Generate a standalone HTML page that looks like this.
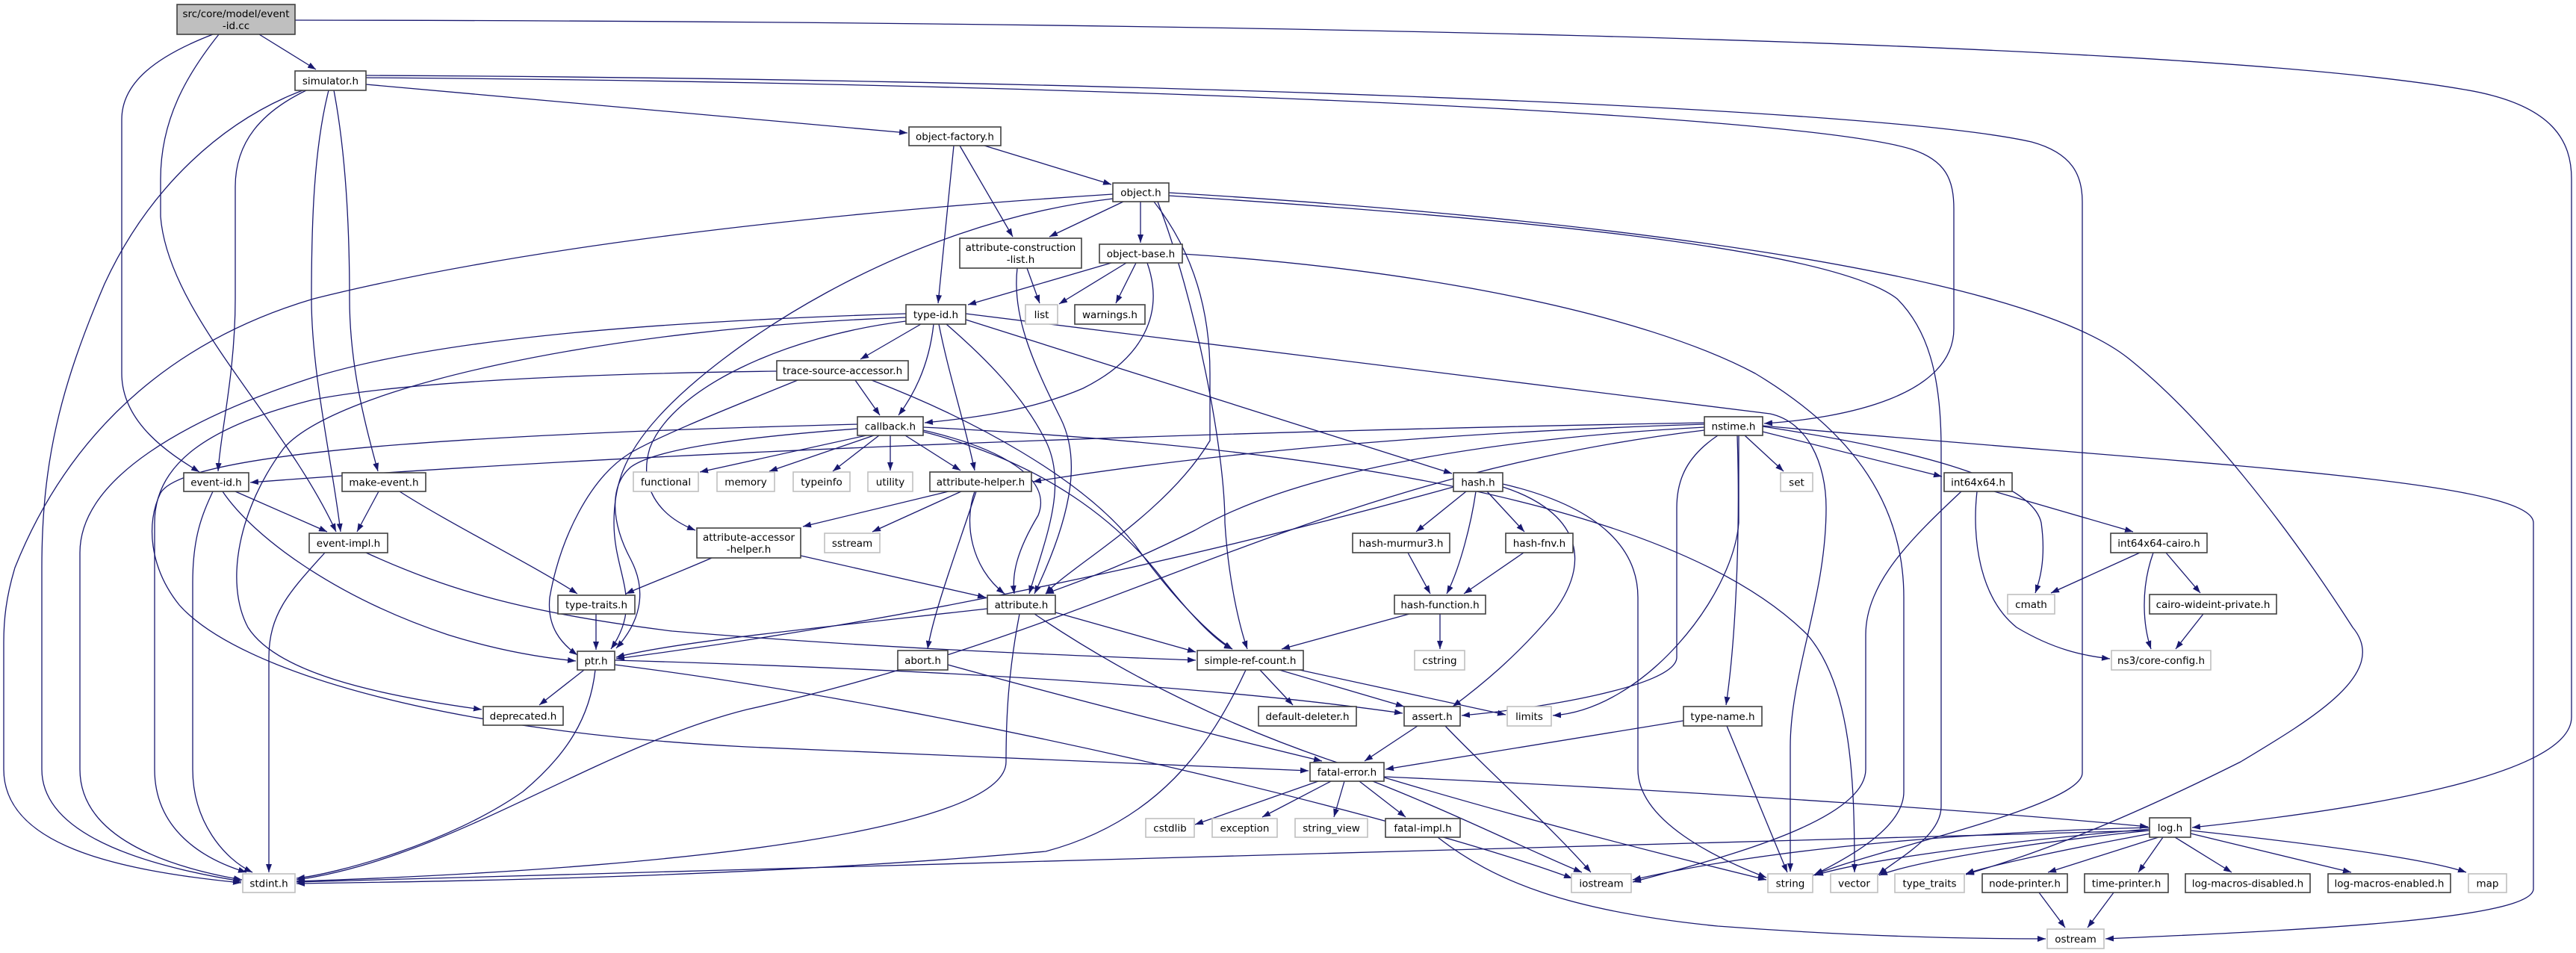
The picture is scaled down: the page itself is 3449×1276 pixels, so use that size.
<!DOCTYPE html>
<html><head><meta charset="utf-8"><style>
html,body{margin:0;padding:0;background:#fff;width:3449px;height:1276px;overflow:hidden}
svg{position:absolute;left:0;top:0}
text{font-family:"DejaVu Sans","Liberation Sans",sans-serif;font-size:13.5px;fill:#000}
.n{fill:#fff;stroke:#404040;stroke-width:1.6}
.g{fill:#fff;stroke:#bfbfbf;stroke-width:1.6}
.r{fill:#bfbfbf;stroke:#404040;stroke-width:1.6}
</style></head><body>
<svg width="3449" height="1276" viewBox="0 0 3449 1276" xmlns="http://www.w3.org/2000/svg">
<defs><marker id="a" markerUnits="userSpaceOnUse" markerWidth="11" markerHeight="8" viewBox="0 0 10 10" refX="10" refY="5" orient="auto" preserveAspectRatio="none"><path d="M0,0 L10,5 L0,10 z" fill="#191970"/></marker></defs>
<rect width="3449" height="1276" fill="#fff"/>
<g fill="none" stroke="#191970" stroke-width="1.3" marker-end="url(#a)">
<!-- root -->
<path d="M347,46 L423,93"/>
<path d="M285,46 C210,75 163,110 163,160 L163,500 C163,570 235,612 267,632"/>
<path d="M293,46 C250,100 215,160 215,240 L215,290 C225,420 380,560 450,712"/>
<path d="M395,27 C1500,28 2900,50 3300,120 C3420,140 3443,190 3443,240 L3443,960 C3443,1040 3150,1085 2935,1108"/>
<!-- simulator -->
<path d="M490,113 L1215,178"/>
<path d="M490,104 C1400,110 2400,150 2560,200 C2605,215 2616,240 2616,280 L2616,440 C2616,530 2470,560 2362,567"/>
<path d="M490,101 C1400,105 2500,140 2720,190 C2775,205 2788,235 2788,270 L2788,1035 C2788,1080 2500,1140 2428,1172"/>
<path d="M410,121 C350,150 315,190 315,250 L315,400 C315,500 295,580 292,631"/>
<path d="M440,121 C420,200 417,300 417,400 C417,500 445,620 456,712"/>
<path d="M447,121 C462,200 468,300 468,400 C468,500 495,590 506,631"/>
<path d="M408,120 C300,160 200,250 140,380 C80,520 56,620 56,760 L56,1030 C56,1120 200,1160 323,1180"/>
<!-- object-factory -->
<path d="M1318,195 L1488,247"/>
<path d="M1277,195 L1256,406"/>
<path d="M1285,195 L1356,317"/>
<!-- object.h -->
<path d="M1504,270 L1405,317"/>
<path d="M1527,270 L1527,325"/>
<path d="M1490,266 C1200,300 960,470 880,560 C835,610 822,650 822,700 C822,770 862,805 818,869"/>
<path d="M1550,270 C1600,400 1640,600 1640,700 C1645,780 1660,840 1670,869"/>
<path d="M1545,270 C1600,340 1620,420 1620,500 L1620,590 C1560,690 1430,760 1400,795"/>
<path d="M1565,262 C2000,290 2450,330 2540,400 C2580,440 2599,500 2599,600 L2599,1080 C2599,1120 2540,1150 2515,1171"/>
<path d="M1565,258 C2100,290 2700,360 2850,480 C2950,560 3060,700 3150,840 C3200,900 3100,960 3000,1020 C2800,1120 2700,1150 2632,1171"/>
<path d="M1490,260 C1100,285 700,330 420,400 C250,450 100,560 20,760 C8,800 5,830 5,860 L5,1030 C5,1130 150,1165 323,1182"/>
<!-- acl -->
<path d="M1375,359 L1392,406"/>
<path d="M1362,359 C1355,420 1380,480 1420,560 C1445,610 1440,680 1385,795"/>
<!-- object-base -->
<path d="M1488,352 L1296,408"/>
<path d="M1508,352 L1418,407"/>
<path d="M1521,352 L1494,406"/>
<path d="M1536,352 C1560,420 1530,480 1450,520 C1380,550 1300,560 1238,566"/>
<path d="M1583,340 C1900,360 2200,420 2350,500 C2450,560 2549,650 2549,800 L2549,1060 C2549,1110 2470,1150 2430,1171"/>
<!-- type-id -->
<path d="M1233,434 L1152,481"/>
<path d="M1250,434 C1245,480 1230,520 1203,556"/>
<path d="M1257,434 C1270,500 1290,560 1305,630"/>
<path d="M1267,434 C1320,480 1370,530 1400,590 C1430,650 1400,720 1378,795"/>
<path d="M1293,428 L1944,634"/>
<path d="M1213,430 C1050,450 900,520 870,600 C855,650 880,690 931,710"/>
<path d="M1213,425 C800,440 450,520 380,600 C320,680 300,780 332,840 C370,900 500,930 645,950"/>
<path d="M1213,420 C900,430 600,450 420,505 C250,560 107,640 107,740 L107,1030 C107,1120 220,1160 324,1178"/>
<path d="M1293,420 L2370,554 C2420,565 2445,620 2445,680 C2445,800 2397,900 2397,1000 L2397,1167"/>
<!-- trace-source-accessor -->
<path d="M1145,509 L1178,556"/>
<path d="M1068,509 C980,545 890,580 843,607 C790,640 750,720 736,800 C732,840 752,862 773,877"/>
<path d="M1167,509 C1300,560 1450,640 1520,730 C1570,800 1620,850 1650,869"/>
<path d="M1040,497 C800,500 550,510 420,535 C280,570 207,620 207,700 L207,1030 C207,1110 270,1150 330,1168"/>
<!-- callback -->
<path d="M1160,583 L937,632"/>
<path d="M1170,583 L1030,631"/>
<path d="M1177,583 L1115,631"/>
<path d="M1192,583 L1192,630"/>
<path d="M1212,583 L1286,630"/>
<path d="M1236,576 C1340,600 1410,640 1390,690 C1360,740 1355,770 1358,795"/>
<path d="M1236,578 C1400,620 1500,700 1560,780 C1600,830 1630,860 1650,869"/>
<path d="M1236,572 C1800,600 2250,680 2420,850 C2480,920 2483,1050 2483,1168"/>
<path d="M1148,574 C1000,585 880,600 845,625 C815,650 818,700 845,750 C868,795 855,835 825,868"/>
<path d="M1148,568 C700,580 250,600 215,660 C195,700 200,760 240,810 C320,900 600,980 1000,1000 L1752,1032"/>
<!-- attribute-helper -->
<path d="M1270,658 L1075,705"/>
<path d="M1287,658 L1168,712"/>
<path d="M1305,658 C1290,700 1300,760 1345,795"/>
<path d="M1307,658 C1280,740 1250,820 1242,869"/>
<!-- attribute-accessor-helper -->
<path d="M1072,744 L1320,800"/>
<path d="M953,747 C900,770 860,785 838,795"/>
<!-- attribute -->
<path d="M1413,820 L1601,873"/>
<path d="M1322,815 C1100,840 900,860 825,880"/>
<path d="M1365,822 C1350,900 1347,960 1347,1020 C1347,1100 1000,1160 397,1180"/>
<path d="M1385,822 C1500,900 1650,980 1850,1040 C2050,1100 2250,1150 2365,1178"/>
<!-- ptr -->
<path d="M782,897 L722,944"/>
<path d="M797,897 C790,960 760,1010 700,1060 C600,1130 450,1170 397,1176"/>
<path d="M823,884 C1200,895 1600,915 1878,955"/>
<path d="M823,890 C1300,950 1900,1100 2105,1176"/>
<!-- simple-ref-count -->
<path d="M1687,897 L1731,944"/>
<path d="M1713,897 L1880,946"/>
<path d="M1740,897 L2016,957"/>
<path d="M1668,897 C1620,1000 1550,1100 1400,1140 C1000,1175 600,1180 397,1183"/>
<!-- hash -->
<path d="M1963,658 L1896,712"/>
<path d="M1991,658 L2041,712"/>
<path d="M1976,658 C1970,700 1955,760 1937,795"/>
<path d="M2012,652 C2100,680 2140,740 2080,820 C2030,880 1980,920 1945,946"/>
<path d="M2012,648 C2150,680 2193,740 2193,800 L2193,1030 C2193,1100 2300,1150 2365,1175"/>
<path d="M1946,652 C1700,720 1300,820 825,882"/>
<path d="M1885,740 L1915,795"/>
<path d="M2040,740 L1960,795"/>
<path d="M1887,822 L1716,869"/>
<path d="M1928,822 L1928,869"/>
<!-- event-id -->
<path d="M315,658 L438,712"/>
<path d="M298,658 C340,720 450,800 600,850 C680,875 740,882 771,885"/>
<path d="M285,658 C270,690 258,720 258,780 L258,1030 C258,1100 300,1150 338,1168"/>
<!-- make-event -->
<path d="M507,658 L478,712"/>
<path d="M535,658 C600,700 720,760 773,795"/>
<!-- event-impl -->
<path d="M490,740 C600,790 700,820 900,845 C1200,870 1450,878 1601,884"/>
<path d="M435,740 C390,790 360,820 360,880 L360,1168"/>
<path d="M798,822 L798,870"/>
<!-- abort / assert / fatal -->
<path d="M1269,890 C1450,940 1650,990 1770,1019"/>
<path d="M1898,972 L1827,1019"/>
<path d="M1935,972 C1990,1030 2080,1110 2130,1168"/>
<path d="M1765,1046 L1600,1104"/>
<path d="M1782,1046 L1690,1094"/>
<path d="M1800,1046 L1786,1094"/>
<path d="M1820,1046 L1882,1094"/>
<path d="M1838,1046 C1950,1090 2050,1140 2118,1168"/>
<path d="M1853,1040 C2300,1060 2700,1090 2876,1107"/>
<path d="M1925,1121 C2000,1180 2100,1220 2300,1240 C2500,1255 2650,1257 2739,1257"/>
<!-- type-name -->
<path d="M2254,965 C2100,990 1950,1015 1855,1030"/>
<path d="M2312,972 L2393,1168"/>
<!-- log -->
<path d="M2878,1110 C2700,1125 2500,1150 2430,1172"/>
<path d="M2878,1112 C2700,1130 2560,1155 2516,1172"/>
<path d="M2880,1116 C2750,1140 2660,1160 2632,1170"/>
<path d="M2890,1121 L2742,1168"/>
<path d="M2896,1121 L2863,1168"/>
<path d="M2912,1121 L2988,1168"/>
<path d="M2933,1116 L3148,1168"/>
<path d="M2933,1112 C3100,1130 3250,1150 3302,1168"/>
<path d="M2878,1108 C2600,1115 2350,1140 2186,1178"/>
<path d="M2876,1112 C2400,1125 1500,1150 397,1181"/>
<path d="M2730,1195 L2765,1242"/>
<path d="M2830,1195 L2795,1242"/>
<!-- int64x64 -->
<path d="M2670,658 L2856,712"/>
<path d="M2647,658 C2640,720 2650,800 2700,840 C2750,870 2790,878 2825,882"/>
<path d="M2626,658 C2560,720 2498,780 2498,850 L2498,1030 C2498,1100 2300,1150 2186,1181"/>
<path d="M2865,740 L2746,794"/>
<path d="M2900,740 L2946,794"/>
<path d="M2883,740 C2865,790 2870,840 2880,869"/>
<path d="M2950,822 L2913,869"/>
<!-- nstime -->
<path d="M2336,583 L2388,631"/>
<path d="M2360,578 L2600,638"/>
<path d="M2360,571 C2550,600 2720,640 2733,700 C2740,750 2730,780 2725,794"/>
<path d="M2360,570 C2900,620 3392,640 3392,700 L3392,1190 C3392,1230 3100,1245 2819,1257"/>
<path d="M2326,583 C2330,700 2325,850 2311,944"/>
<path d="M2300,583 C2260,610 2245,640 2245,680 L2245,880 C2245,920 2050,950 1957,958"/>
<path d="M2328,583 L2328,700 C2320,800 2200,950 2079,958"/>
<path d="M2282,566 C1500,580 800,610 335,646"/>
<path d="M2282,568 C1900,580 1600,610 1383,645"/>
<path d="M2282,572 C1950,590 1720,640 1600,710 C1500,760 1440,780 1400,795"/>
<path d="M2282,576 C1750,640 1500,840 1000,950 C800,1000 600,1150 397,1178"/>
</g>
<!-- nodes -->
<g>
<rect class="r" x="237" y="6" width="158" height="40"/><text x="316" y="23" text-anchor="middle">src/core/model/event</text><text x="316" y="39" text-anchor="middle">-id.cc</text>
<rect class="n" x="395" y="95" width="95" height="26"/><text x="442.5" y="113" text-anchor="middle">simulator.h</text>
<rect class="n" x="1217" y="170" width="123" height="25"/><text x="1278.5" y="187.5" text-anchor="middle">object-factory.h</text>
<rect class="n" x="1490" y="245" width="75" height="25"/><text x="1527.5" y="262.5" text-anchor="middle">object.h</text>
<rect class="n" x="1285" y="319" width="163" height="40"/><text x="1366.5" y="336" text-anchor="middle">attribute-construction</text><text x="1366.5" y="352" text-anchor="middle">-list.h</text>
<rect class="n" x="1472" y="327" width="111" height="25"/><text x="1527.5" y="344.5" text-anchor="middle">object-base.h</text>
<rect class="n" x="1213" y="408" width="80" height="26"/><text x="1253" y="426" text-anchor="middle">type-id.h</text>
<rect class="g" x="1373" y="408" width="43" height="26"/><text x="1394.5" y="426" text-anchor="middle">list</text>
<rect class="n" x="1439" y="408" width="94" height="26"/><text x="1486" y="426" text-anchor="middle">warnings.h</text>
<rect class="n" x="1040" y="483" width="176" height="26"/><text x="1128" y="501" text-anchor="middle">trace-source-accessor.h</text>
<rect class="n" x="1148" y="558" width="88" height="25"/><text x="1192" y="575.5" text-anchor="middle">callback.h</text>
<rect class="n" x="2282" y="558" width="78" height="25"/><text x="2321" y="575.5" text-anchor="middle">nstime.h</text>
<rect class="n" x="246" y="633" width="87" height="25"/><text x="289.5" y="650.5" text-anchor="middle">event-id.h</text>
<rect class="n" x="458" y="633" width="112" height="25"/><text x="514" y="650.5" text-anchor="middle">make-event.h</text>
<rect class="g" x="848" y="632" width="87" height="26"/><text x="891.5" y="650" text-anchor="middle">functional</text>
<rect class="g" x="960" y="632" width="77" height="26"/><text x="998.5" y="650" text-anchor="middle">memory</text>
<rect class="g" x="1062" y="632" width="76" height="26"/><text x="1100" y="650" text-anchor="middle">typeinfo</text>
<rect class="g" x="1162" y="632" width="60" height="26"/><text x="1192" y="650" text-anchor="middle">utility</text>
<rect class="n" x="1245" y="632" width="136" height="26"/><text x="1313" y="650" text-anchor="middle">attribute-helper.h</text>
<rect class="n" x="1946" y="633" width="66" height="25"/><text x="1979" y="650.5" text-anchor="middle">hash.h</text>
<rect class="g" x="2384" y="633" width="43" height="25"/><text x="2405.5" y="650.5" text-anchor="middle">set</text>
<rect class="n" x="2603" y="633" width="91" height="25"/><text x="2648.5" y="650.5" text-anchor="middle">int64x64.h</text>
<rect class="n" x="414" y="714" width="105" height="26"/><text x="466.5" y="732" text-anchor="middle">event-impl.h</text>
<rect class="n" x="933" y="707" width="139" height="40"/><text x="1002.5" y="724" text-anchor="middle">attribute-accessor</text><text x="1002.5" y="740" text-anchor="middle">-helper.h</text>
<rect class="g" x="1104" y="714" width="74" height="26"/><text x="1141" y="732" text-anchor="middle">sstream</text>
<rect class="n" x="1811" y="714" width="130" height="26"/><text x="1876" y="732" text-anchor="middle">hash-murmur3.h</text>
<rect class="n" x="2016" y="714" width="90" height="26"/><text x="2061" y="732" text-anchor="middle">hash-fnv.h</text>
<rect class="n" x="2826" y="714" width="129" height="26"/><text x="2890.5" y="732" text-anchor="middle">int64x64-cairo.h</text>
<rect class="n" x="747" y="797" width="103" height="25"/><text x="798.5" y="814.5" text-anchor="middle">type-traits.h</text>
<rect class="n" x="1322" y="797" width="91" height="25"/><text x="1367.5" y="814.5" text-anchor="middle">attribute.h</text>
<rect class="n" x="1867" y="797" width="122" height="25"/><text x="1928" y="814.5" text-anchor="middle">hash-function.h</text>
<rect class="g" x="2688" y="796" width="63" height="26"/><text x="2719.5" y="814" text-anchor="middle">cmath</text>
<rect class="n" x="2878" y="796" width="170" height="26"/><text x="2963" y="814" text-anchor="middle">cairo-wideint-private.h</text>
<rect class="n" x="773" y="872" width="50" height="25"/><text x="798" y="889.5" text-anchor="middle">ptr.h</text>
<rect class="n" x="1202" y="871" width="67" height="26"/><text x="1235.5" y="889" text-anchor="middle">abort.h</text>
<rect class="n" x="1603" y="871" width="142" height="26"/><text x="1674" y="889" text-anchor="middle">simple-ref-count.h</text>
<rect class="g" x="1894" y="871" width="67" height="26"/><text x="1927.5" y="889" text-anchor="middle">cstring</text>
<rect class="g" x="2827" y="871" width="133" height="26"/><text x="2893.5" y="889" text-anchor="middle">ns3/core-config.h</text>
<rect class="n" x="647" y="946" width="107" height="25"/><text x="700.5" y="963.5" text-anchor="middle">deprecated.h</text>
<rect class="n" x="1685" y="946" width="131" height="26"/><text x="1750.5" y="964" text-anchor="middle">default-deleter.h</text>
<rect class="n" x="1880" y="946" width="75" height="26"/><text x="1917.5" y="964" text-anchor="middle">assert.h</text>
<rect class="g" x="2018" y="946" width="59" height="26"/><text x="2047.5" y="964" text-anchor="middle">limits</text>
<rect class="n" x="2254" y="946" width="105" height="26"/><text x="2306.5" y="964" text-anchor="middle">type-name.h</text>
<rect class="n" x="1754" y="1021" width="99" height="25"/><text x="1803.5" y="1038.5" text-anchor="middle">fatal-error.h</text>
<rect class="g" x="1534" y="1096" width="65" height="25"/><text x="1566.5" y="1113.5" text-anchor="middle">cstdlib</text>
<rect class="g" x="1623" y="1096" width="87" height="25"/><text x="1666.5" y="1113.5" text-anchor="middle">exception</text>
<rect class="g" x="1734" y="1096" width="97" height="25"/><text x="1782.5" y="1113.5" text-anchor="middle">string_view</text>
<rect class="n" x="1855" y="1096" width="100" height="25"/><text x="1905" y="1113.5" text-anchor="middle">fatal-impl.h</text>
<rect class="n" x="2878" y="1095" width="55" height="26"/><text x="2905.5" y="1113" text-anchor="middle">log.h</text>
<rect class="g" x="325" y="1170" width="70" height="25"/><text x="360" y="1187.5" text-anchor="middle">stdint.h</text>
<rect class="g" x="2104" y="1170" width="80" height="25"/><text x="2144" y="1187.5" text-anchor="middle">iostream</text>
<rect class="g" x="2367" y="1170" width="60" height="25"/><text x="2397" y="1187.5" text-anchor="middle">string</text>
<rect class="g" x="2451" y="1170" width="63" height="25"/><text x="2482.5" y="1187.5" text-anchor="middle">vector</text>
<rect class="g" x="2537" y="1170" width="93" height="25"/><text x="2583.5" y="1187.5" text-anchor="middle">type_traits</text>
<rect class="n" x="2654" y="1170" width="114" height="25"/><text x="2711" y="1187.5" text-anchor="middle">node-printer.h</text>
<rect class="n" x="2791" y="1170" width="112" height="25"/><text x="2847" y="1187.5" text-anchor="middle">time-printer.h</text>
<rect class="n" x="2926" y="1170" width="167" height="25"/><text x="3009.5" y="1187.5" text-anchor="middle">log-macros-disabled.h</text>
<rect class="n" x="3117" y="1170" width="164" height="25"/><text x="3199" y="1187.5" text-anchor="middle">log-macros-enabled.h</text>
<rect class="g" x="3305" y="1170" width="51" height="25"/><text x="3330.5" y="1187.5" text-anchor="middle">map</text>
<rect class="g" x="2741" y="1244" width="76" height="26"/><text x="2779" y="1262" text-anchor="middle">ostream</text>
</g>
</svg>
</body></html>
